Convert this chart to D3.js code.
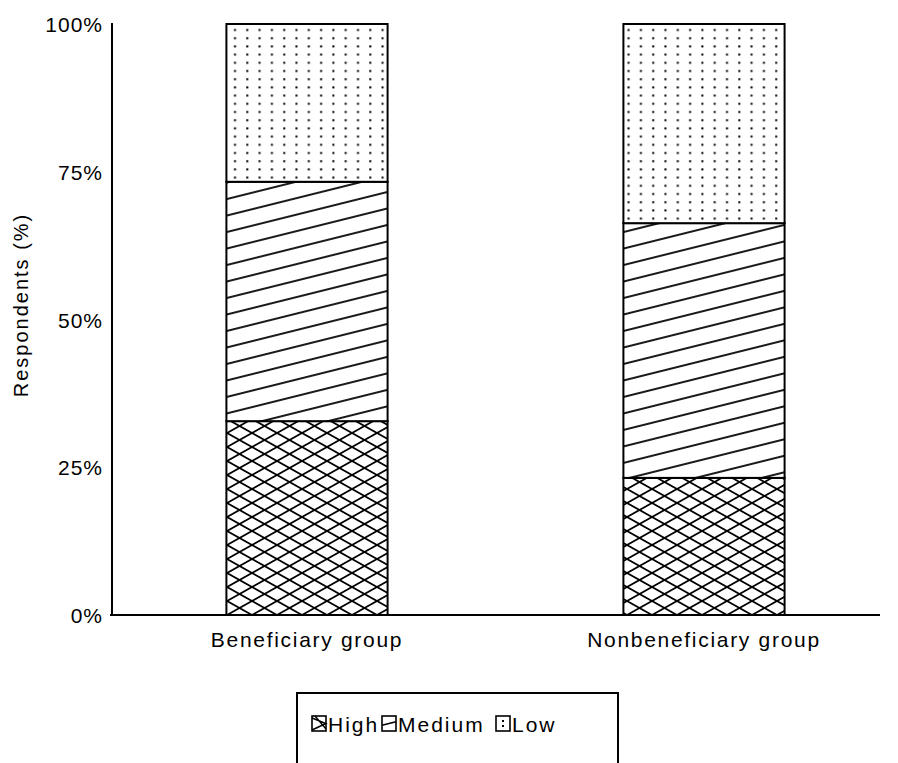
<!DOCTYPE html>
<html><head><meta charset="utf-8">
<script src="https://cdn.jsdelivr.net/npm/d3@7"></script>
<style>body{margin:0;background:#fff}svg{display:block}</style>
</head><body>
<svg id="c" width="898" height="763"></svg>
<script>
const categories = ["Beneficiary group", "Nonbeneficiary group"];
const levels = ["High", "Medium", "Low"];
const highValues = [32.8, 23.2];
const mediumValues = [40.5, 43.1];
const lowValues = [26.7, 33.7];
const yTicks = [0, 25, 50, 75, 100];
const yTickLabels = ["0%", "25%", "50%", "75%", "100%"];
const yLabel = "Respondents (%)";

const svg = d3.select("#c");
const font = "'Liberation Sans', Arial, Helvetica, sans-serif";
const defs = svg.append("defs");

// patterns
const pHigh = defs.append("pattern").attr("id","pHigh").attr("patternUnits","userSpaceOnUse")
  .attr("width",25).attr("height",14).attr("x",227).attr("y",615);
pHigh.append("rect").attr("width",25).attr("height",14).attr("fill","#fff");
pHigh.append("line").attr("x1",-25).attr("y1",-14).attr("x2",50).attr("y2",28).attr("stroke","#000").attr("stroke-width",1.8);
pHigh.append("line").attr("x1",-25).attr("y1",28).attr("x2",50).attr("y2",-14).attr("stroke","#000").attr("stroke-width",1.8);

const pMed = defs.append("pattern").attr("id","pMed").attr("patternUnits","userSpaceOnUse")
  .attr("width",20).attr("height",16).attr("patternTransform","rotate(-14)");
pMed.append("rect").attr("width",20).attr("height",16).attr("fill","#fff");
pMed.append("line").attr("x1",-2).attr("y1",8).attr("x2",22).attr("y2",8).attr("stroke","#000").attr("stroke-width",1.8);

const pLow = defs.append("pattern").attr("id","pLow").attr("patternUnits","userSpaceOnUse")
  .attr("width",12.3).attr("height",8.2).attr("x",229).attr("y",26);
pLow.append("rect").attr("width",12.3).attr("height",8.2).attr("fill","#fff");
pLow.append("rect").attr("x",5).attr("y",3).attr("width",2).attr("height",2).attr("fill","#000");

const fills = {High:"url(#pHigh)", Medium:"url(#pMed)", Low:"url(#pLow)"};

const x = d3.scaleBand().domain(categories).range([108.5, 902.5]).paddingInner(0.594).paddingOuter(0.297);
const y = d3.scaleLinear().domain([0,100]).range([615, 24]);

const data = categories.map((c,i)=>({cat:c, High:highValues[i], Medium:mediumValues[i], Low:lowValues[i]}));
const stack = d3.stack().keys(levels)(data);

svg.append("g").selectAll("g").data(stack).join("g")
  .attr("fill", d=>fills[d.key])
  .selectAll("rect").data(d=>d).join("rect")
  .attr("x", d=>x(d.data.cat))
  .attr("y", d=>y(d[1]))
  .attr("width", x.bandwidth())
  .attr("height", d=>y(d[0])-y(d[1]))
  .attr("stroke","#000").attr("stroke-width",2);

// axes
const yAxis = d3.axisLeft(y).tickValues(yTicks).tickFormat((d,i)=>yTickLabels[i]).tickSize(0).tickPadding(9);
const gy = svg.append("g").attr("transform","translate(112,0)").call(yAxis);
gy.select(".domain").attr("stroke","#000").attr("stroke-width",2).attr("d","M0,23V615");
gy.selectAll("text").attr("font-family",font).attr("font-size",21).attr("letter-spacing","1px").attr("fill","#000").attr("dy","0.36em");

const xAxis = d3.axisBottom(x).tickSize(0).tickPadding(17);
const gx = svg.append("g").attr("transform","translate(0,615)").call(xAxis);
gx.select(".domain").attr("stroke","#000").attr("stroke-width",2).attr("d","M110,0H880");
gx.selectAll("text").attr("font-family",font).attr("font-size",21).attr("letter-spacing","1.7px").attr("fill","#000");

svg.append("text").attr("transform","translate(28,305) rotate(-90)")
  .attr("text-anchor","middle").attr("font-family",font).attr("font-size",20)
  .attr("letter-spacing","2px").text(yLabel);

// legend
const lg = svg.append("g");
lg.append("rect").attr("x",297).attr("y",693).attr("width",321).attr("height",80)
  .attr("fill","#fff").attr("stroke","#000").attr("stroke-width",2);
const legendX = [312, 382, 496];
const iy = 716, iw = 14, ih = 15;
levels.forEach((k,i)=>{
  const ix = legendX[i];
  const g = lg.append("g");
  g.append("rect").attr("x",ix).attr("y",iy).attr("width",iw).attr("height",ih)
    .attr("fill","#fff").attr("stroke","#000").attr("stroke-width",1.6);
  if (k === "High") {
    g.append("path").attr("d",`M${ix},${iy+2}L${ix+iw},${iy+ih/2}L${ix},${iy+ih-1}M${ix+3},${iy}L${ix+iw},${iy+ih-2}`)
      .attr("fill","none").attr("stroke","#000").attr("stroke-width",1.4);
  } else if (k === "Medium") {
    g.append("line").attr("x1",ix).attr("y1",iy+ih*0.62).attr("x2",ix+iw).attr("y2",iy+ih*0.38)
      .attr("stroke","#000").attr("stroke-width",1.4);
  } else {
    g.append("rect").attr("x",ix+6).attr("y",iy+4).attr("width",2).attr("height",2).attr("fill","#000");
    g.append("rect").attr("x",ix+6).attr("y",iy+9).attr("width",2).attr("height",2).attr("fill","#000");
  }
  lg.append("text").attr("x",ix+iw+2).attr("y",732).attr("font-family",font)
    .attr("font-size",21).attr("letter-spacing","2px").text(k);
});
</script>
</body></html>
